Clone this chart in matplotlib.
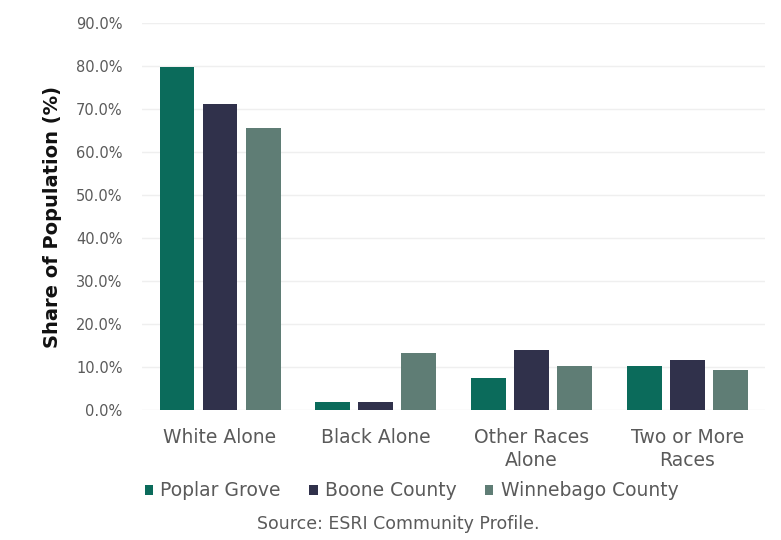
import numpy as np
import matplotlib.pyplot as plt
from matplotlib.ticker import PercentFormatter

plt.rcParams['font.family'] = ['DejaVu Sans']

# Data
categories = ["White Alone", "Black Alone", "Other Races\nAlone", "Two or More\nRaces"]
poplar_grove = [79.7, 1.9, 7.4, 10.1]
boone_county = [71.3, 1.9, 14.0, 11.5]
winnebago_county = [65.7, 13.3, 10.1, 9.3]
series_names = ["Poplar Grove", "Boone County", "Winnebago County"]
colors = ["#0b6b5b", "#30314b", "#5f7d75"]

fig = plt.figure(figsize=(7.81, 5.4), dpi=100)
ax = fig.add_axes([0.182, 0.241, 0.798, 0.716])

x = np.arange(len(categories))
w = 0.224
step = 0.276
for i, (vals, name) in enumerate(zip([poplar_grove, boone_county, winnebago_county], series_names)):
    ax.bar(x + (i - 1) * step, vals, width=w, color=colors[i], label=name, zorder=3)

ax.set_xlim(-0.5, len(categories) - 0.5)
ax.set_ylim(0, 90)
ax.set_yticks(np.arange(0, 91, 10))
ax.yaxis.set_major_formatter(PercentFormatter(decimals=1))
ax.grid(axis="y", color="#efefef", linewidth=1, zorder=0)
for s in ax.spines.values():
    s.set_visible(False)
ax.tick_params(axis="y", length=0, labelsize=10.5, labelcolor="#5a5a5a", pad=14)
ax.tick_params(axis="x", length=0, labelsize=13.5, labelcolor="#5a5a5a", pad=13)
ax.set_xticks(x)
ax.set_xticklabels(categories, linespacing=1.25)
ax.set_ylabel("Share of Population (%)", fontsize=14, fontweight="bold", color="#111111", labelpad=10)

fig.legend(loc="center", bbox_to_anchor=(0.527, 0.091), ncol=3, frameon=False,
           fontsize=13.5, labelcolor="#5a5a5a", handlelength=0.45, handleheight=0.45,
           handletextpad=0.4, columnspacing=1.5)

fig.text(0.51, 0.03, "Source: ESRI Community Profile.", ha="center", va="center",
         fontsize=12.5, color="#5a5a5a")

fig.savefig("out.png", dpi=100)
